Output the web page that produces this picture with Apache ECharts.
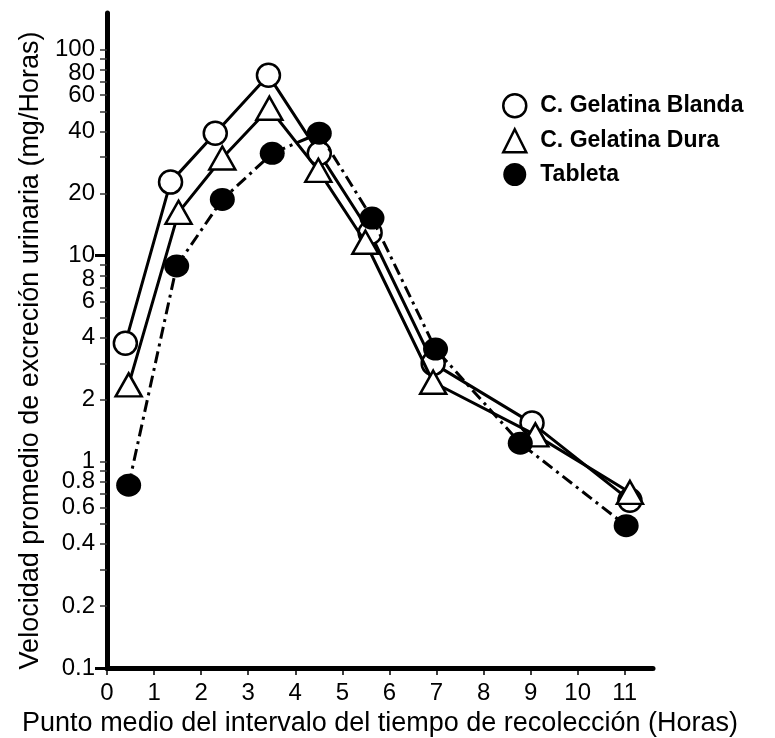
<!DOCTYPE html>
<html>
<head>
<meta charset="utf-8">
<script src="https://cdn.jsdelivr.net/npm/echarts@6/dist/echarts.min.js"></script>
<style>html,body{margin:0;padding:0;background:#fff;}#c{width:775px;height:738px;}</style>
</head>
<body>
<div id="c"></div>
<script>
// ---- data ----
const seriesNames = ['C. Gelatina Blanda', 'C. Gelatina Dura', 'Tableta'];
const blandaX = [0.39, 1.35, 2.30, 3.43, 4.51, 5.59, 6.93, 9.03, 11.11];
const blandaY = [3.76, 22.7, 39.2, 74.8, 31.3, 12.9, 3.0, 1.54, 0.65];
const duraX = [0.46, 1.52, 2.45, 3.45, 4.49, 5.49, 6.93, 9.10, 11.11];
const duraY = [2.36, 16.2, 29.7, 51.8, 25.9, 11.6, 2.43, 1.35, 0.71];
const tabletaX = [0.46, 1.48, 2.45, 3.51, 4.51, 5.63, 6.98, 8.78, 11.03];
const tabletaY = [0.77, 8.9, 18.7, 31.3, 39.2, 15.2, 3.52, 1.23, 0.49];
const xTicks = [0, 1, 2, 3, 4, 5, 6, 7, 8, 9, 10, 11];
const yTickLabels = [0.1, 0.2, 0.4, 0.6, 0.8, 1, 2, 4, 6, 8, 10, 20, 40, 60, 80, 100];
const yMinorTicks = [0.1,0.2,0.3,0.4,0.5,0.6,0.7,0.8,0.9,1,2,3,4,5,6,7,8,9,10,20,30,40,50,60,70,80,90,100];
const yMajorTicks = [0.1, 10];
const yMin = 0.1, yMax = 150, xMin = 0, xMax = 11.6;
const xTitle = 'Punto medio del intervalo del tiempo de recolección (Horas)';
const yTitle = 'Velocidad promedio de excreción urinaria (mg/Horas)';

const FONT = '"Liberation Sans", Arial, sans-serif';
const zip = (xs, ys) => xs.map((x, i) => [x, ys[i]]);
const lg = v => Math.log10(v);

const chart = echarts.init(document.getElementById('c'), null, {renderer: 'canvas'});
chart.setOption({
  backgroundColor: '#fff',
  animation: false,
  grid: {left: 107, right: 122, top: 13, bottom: 70, containLabel: false, outerBoundsMode: 'none'},
  legend: {
    orient: 'vertical', left: 497, top: 88, itemWidth: 23, itemHeight: 23, itemGap: 9.5,
    textStyle: {fontFamily: FONT, fontSize: 23, fontWeight: 'bold', color: '#000', padding: [0, 0, 0, 9], lineHeight: 23},
    data: [
      {name: seriesNames[0], icon: 'circle', itemStyle: {color: '#fff', borderColor: '#000', borderWidth: 2.5}},
      {name: seriesNames[1], icon: 'triangle', itemStyle: {color: '#fff', borderColor: '#000', borderWidth: 2.5}},
      {name: seriesNames[2], icon: 'circle', itemStyle: {color: '#000', borderColor: '#000', borderWidth: 0}}
    ]
  },
  xAxis: {
    type: 'value', min: xMin, max: xMax, interval: 1,
    name: xTitle, nameLocation: 'middle', nameGap: 39,
    nameTextStyle: {fontFamily: FONT, fontSize: 27, color: '#000'},
    axisLine: {show: true, onZero: false, lineStyle: {color: '#000', width: 5, cap: 'round'}},
    axisTick: {show: true, length: 7, customValues: xTicks, lineStyle: {color: '#000', width: 1.5}},
    axisLabel: {customValues: xTicks, fontFamily: FONT, fontSize: 24, color: '#000', margin: 13, hideOverlap: false},
    splitLine: {show: false}
  },
  yAxis: [
    {
      type: 'log', logBase: 10, min: yMin, max: yMax,
      axisLine: {show: true, onZero: false, lineStyle: {color: '#000', width: 5}},
      axisTick: {show: false}, axisLabel: {show: false}, splitLine: {show: false}, minorTick: {show: false}
    },
    {
      type: 'value', position: 'left', min: lg(yMin), max: lg(yMax),
      name: yTitle, nameLocation: 'middle', nameGap: 63, nameRotate: 90,
      nameTextStyle: {fontFamily: FONT, fontSize: 27, color: '#000', padding: [0, 20, 0, 0]},
      axisLine: {show: false},
      axisTick: {show: true, length: 7, customValues: yMinorTicks.map(lg), lineStyle: {color: '#333', width: 1.5}},
      axisLabel: {
        customValues: yTickLabels.map(lg), fontFamily: FONT, fontSize: 24, color: '#000', margin: 12,
        hideOverlap: false, showMinLabel: true, showMaxLabel: true,
        formatter: v => {
          const n = Number(Math.pow(10, v).toPrecision(2));
          return (n === 80 || n === 8) ? '{low|' + n + '}' : String(n);
        },
        rich: {low: {fontFamily: FONT, fontSize: 24, color: '#000', padding: [8, 0, 0, 0]}}
      },
      splitLine: {show: false}
    },
    {
      type: 'value', position: 'left', min: lg(yMin), max: lg(yMax),
      axisLine: {show: false},
      axisTick: {show: true, length: 12, customValues: yMajorTicks.map(lg), lineStyle: {color: '#000', width: 3}},
      axisLabel: {show: false}, splitLine: {show: false}
    }
  ],
  series: [
    {
      name: seriesNames[0], type: 'line', yAxisIndex: 0, data: zip(blandaX, blandaY),
      symbol: 'circle', symbolSize: 23, z: 3,
      lineStyle: {color: '#000', width: 3},
      itemStyle: {color: '#fff', borderColor: '#000', borderWidth: 2.5}
    },
    {
      name: seriesNames[1], type: 'line', yAxisIndex: 0, data: zip(duraX, duraY),
      symbol: 'triangle', symbolSize: [26, 23], z: 4,
      lineStyle: {color: '#000', width: 3},
      itemStyle: {color: '#fff', borderColor: '#000', borderWidth: 2.5}
    },
    {
      name: seriesNames[2], type: 'line', yAxisIndex: 0, data: zip(tabletaX, tabletaY),
      symbol: 'circle', symbolSize: [25, 23], z: 5,
      lineStyle: {color: '#000', width: 3, type: [12, 5, 3, 5]},
      itemStyle: {color: '#000', borderColor: '#000', borderWidth: 0}
    }
  ]
});
</script>
</body>
</html>
